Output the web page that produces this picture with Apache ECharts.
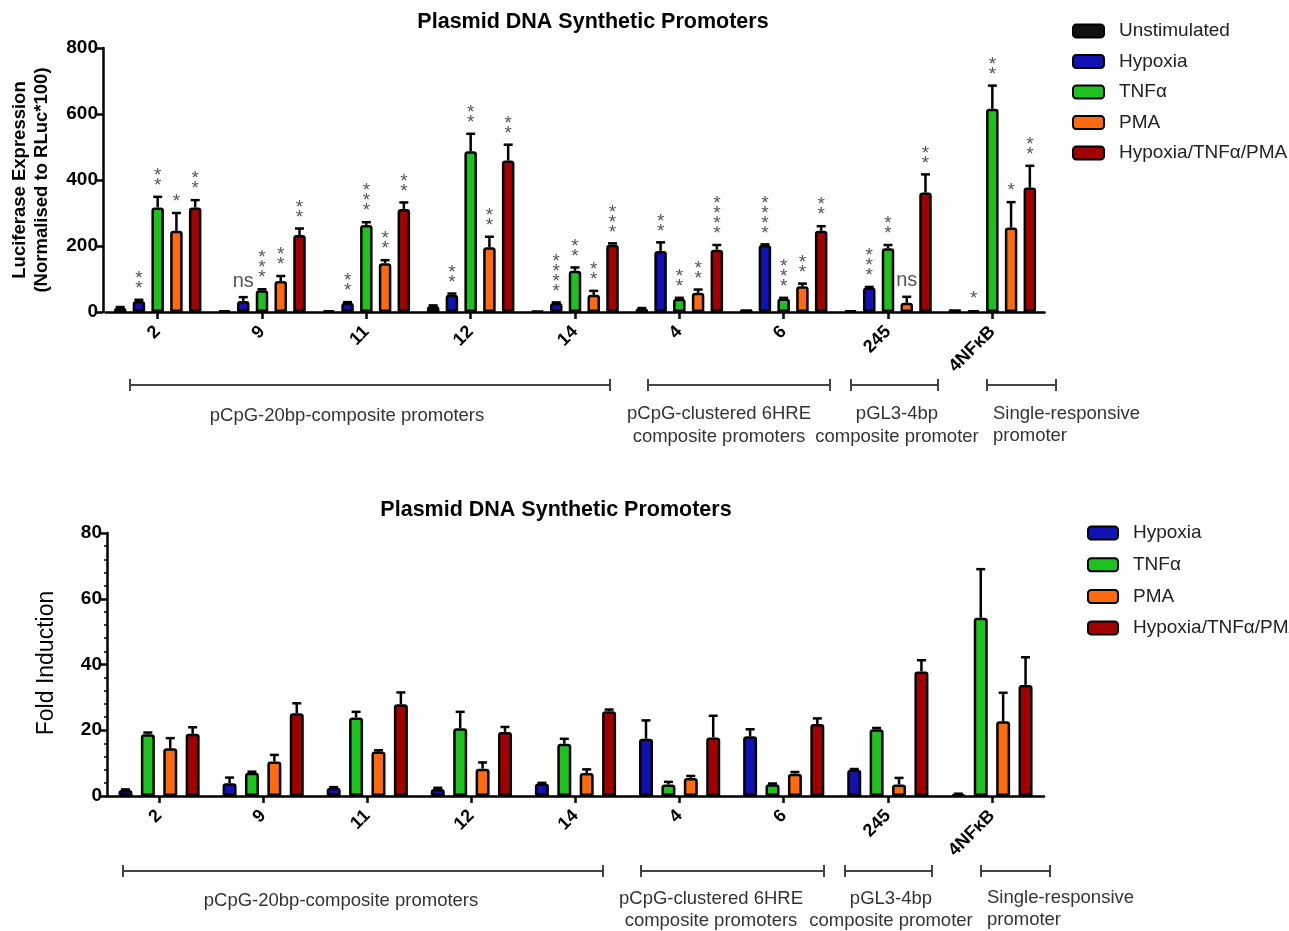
<!DOCTYPE html>
<html><head><meta charset="utf-8">
<script src="https://cdn.jsdelivr.net/npm/echarts@6/dist/echarts.min.js"></script>
<style>html,body{margin:0;padding:0;background:#fff}#c{width:1289px;height:931px}</style>
</head><body><div id="c"></div>
<script>
// ---------- DATA ----------
const categories = ['2', '9', '11', '12', '14', '4', '6', '245', '4NF\u03baB'];
const seriesNames = ['Unstimulated', 'Hypoxia', 'TNF\u03b1', 'PMA', 'Hypoxia/TNF\u03b1/PMA'];

// Top panel: Luciferase expression (normalised to RLuc*100)
const unstimLuc   = [13, 4, 5, 18, 3, 10, 8, 4, 8];
const unstimLucErr= [2, 1, 1, 2, 1, 2, 1, 1, 1];
const hypoxiaLuc  = [33, 33, 28, 52, 27, 185, 203, 74, 5];
const hypoxiaLucErr=[4, 12, 2, 4, 2, 26, 2, 2, 1];
const tnfLuc      = [317, 66, 264, 487, 125, 40, 41, 193, 616];
const tnfLucErr   = [32, 3, 8, 53, 10, 3, 2, 10, 70];
const pmaLuc      = [246, 94, 148, 196, 52, 58, 78, 28, 256];
const pmaLucErr   = [54, 15, 9, 32, 12, 10, 8, 18, 77];
const comboLuc    = [317, 233, 312, 459, 204, 189, 246, 362, 377];
const comboLucErr = [22, 20, 20, 48, 4, 14, 14, 55, 66];

// significance labels (top panel)
const hypoxiaSig = ['**', 'ns', '**', '**', '****', '**', '****', '***', '*'];
const tnfSig     = ['**', '***', '***', '**', '**', '**', '***', '**', '**'];
const pmaSig     = ['*', '**', '**', '**', '**', '**', '**', 'ns', '*'];
const comboSig   = ['**', '**', '**', '**', '***', '****', '**', '**', '**'];

// Bottom panel: fold induction
const hypoxiaFold    = [1.8, 3.9, 2.5, 2.1, 3.8, 17.4, 18.2, 8.0, 0.5];
const hypoxiaFoldErr = [0.2, 1.7, 0.2, 0.4, 0.2, 5.6, 2.1, 0.2, 0.2];
const tnfFold        = [18.8, 7.1, 23.9, 20.6, 15.9, 3.5, 3.6, 20.3, 54.2];
const tnfFoldErr     = [0.5, 0.3, 1.7, 5.0, 1.5, 0.8, 0.2, 0.4, 14.8];
const pmaFold        = [14.5, 10.5, 13.5, 8.3, 7.0, 5.5, 6.8, 3.5, 22.7];
const pmaFoldErr     = [3.1, 2.0, 0.4, 1.9, 1.1, 0.6, 0.5, 2.0, 8.7];
const comboFold      = [18.9, 25.2, 27.9, 19.5, 25.8, 17.8, 21.9, 37.9, 33.8];
const comboFoldErr   = [2.0, 3.0, 3.6, 1.5, 0.5, 6.6, 1.7, 3.4, 8.4];

const titleText = 'Plasmid DNA Synthetic Promoters';
const groupLabels = [
  ['pCpG-20bp-composite promoters'],
  ['pCpG-clustered 6HRE', 'composite promoters'],
  ['pGL3-4bp', 'composite promoter'],
  ['Single-responsive', 'promoter']
];

// ---------- STYLE ----------
const FONT = '"Liberation Sans", Arial, sans-serif';
const colorMap = {
  'Unstimulated': '#111111',
  'Hypoxia': '#1212B4',
  'TNF\u03b1': '#1EC21E',
  'PMA': '#FF6A0C',
  'Hypoxia/TNF\u03b1/PMA': '#A30000'
};

const chart = echarts.init(document.getElementById('c'), null, {renderer: 'canvas'});

const TOP_BW = 12.5, TOP_GAP = 0.5;
const BOT_BW = 14, BOT_GAP = 0.6;

function barSeries(name, data, gi, bw, gap) {
  return {
    type: 'bar', name: name, data: data,
    xAxisIndex: gi, yAxisIndex: gi,
    barWidth: bw, barGap: (gap * 100) + '%',
    itemStyle: {color: colorMap[name], borderColor: '#000', borderWidth: 2.5, borderRadius: [2, 2, 0, 0]},
    emphasis: {disabled: true},
    z: 2
  };
}

function errSeries(gi, groups, bw, gap) {
  const n = groups.length;
  const spacing = bw * (1 + gap);
  const items = [];
  groups.forEach((g, si) => {
    g.vals.forEach((v, ci) => {
      items.push([ci, si, v, v + g.errs[ci], g.sig ? g.sig[ci] : '']);
    });
  });
  return {
    type: 'custom', name: 'err' + gi,
    xAxisIndex: gi, yAxisIndex: gi, z: 3, silent: true,
    data: items.map(d => [d[0], d[1], d[2], d[3]]),
    renderItem: function (params, api) {
      const ci = api.value(0), si = api.value(1), v = api.value(2), top = api.value(3);
      const lab = items[params.dataIndex][4];
      const b = api.coord([ci, v]);
      const t = api.coord([ci, top]);
      const x = b[0] + (si - (n - 1) / 2) * spacing;
      const children = [];
      if (t[1] < b[1] - 0.5) {
        children.push({type: 'line', shape: {x1: x, y1: b[1], x2: x, y2: t[1]}, style: {stroke: '#000', lineWidth: 2.5}});
        children.push({type: 'line', shape: {x1: x - 4.5, y1: t[1], x2: x + 4.5, y2: t[1]}, style: {stroke: '#000', lineWidth: 2.5}});
      }
      if (lab) {
        const isStar = lab.indexOf('*') >= 0;
        const txt = isStar ? lab.split('').join('\n') : lab;
        children.push({
          type: 'text',
          style: {
            text: txt, x: x, y: t[1] - (isStar ? 6 : 6),
            fill: '#555', fontFamily: FONT,
            fontSize: isStar ? 19 : 20, lineHeight: isStar ? 10 : 20,
            align: 'center', verticalAlign: 'bottom',
            textAlign: 'center', textVerticalAlign: 'bottom'
          }
        });
      }
      return {type: 'group', children: children};
    }
  };
}

function bracket(x1, x2, y, labels, cx, align, ly, lgap) {
  const els = [
    {type: 'line', shape: {x1: x1, y1: y, x2: x2, y2: y}, style: {stroke: '#444', lineWidth: 2}},
    {type: 'line', shape: {x1: x1, y1: y - 6, x2: x1, y2: y + 6}, style: {stroke: '#444', lineWidth: 2}},
    {type: 'line', shape: {x1: x2, y1: y - 6, x2: x2, y2: y + 6}, style: {stroke: '#444', lineWidth: 2}}
  ];
  labels.forEach((l, i) => {
    els.push({type: 'text', x: cx, y: ly + i * lgap,
      style: {text: l, fill: '#333', font: '18.5px ' + FONT, textAlign: align, textVerticalAlign: 'middle'}});
  });
  return els;
}

const axisLineStyle = {show: true, lineStyle: {color: '#000', width: 2.5}};

const topGroups = [
  {vals: unstimLuc, errs: unstimLucErr, sig: null},
  {vals: hypoxiaLuc, errs: hypoxiaLucErr, sig: hypoxiaSig},
  {vals: tnfLuc, errs: tnfLucErr, sig: tnfSig},
  {vals: pmaLuc, errs: pmaLucErr, sig: pmaSig},
  {vals: comboLuc, errs: comboLucErr, sig: comboSig}
];
const botGroups = [
  {vals: hypoxiaFold, errs: hypoxiaFoldErr},
  {vals: tnfFold, errs: tnfFoldErr},
  {vals: pmaFold, errs: pmaFoldErr},
  {vals: comboFold, errs: comboFoldErr}
];

const xLabel = {rotate: 45, interval: 0, fontWeight: 'bold', fontSize: 18, color: '#000', fontFamily: FONT, margin: 17};
const yLabel = {fontWeight: 'bold', fontSize: 19, color: '#000', fontFamily: FONT, margin: 5};

const graphics = []
  .concat(bracket(130, 610, 385, groupLabels[0], 347, 'center', 416, 22))
  .concat(bracket(648, 830, 385, groupLabels[1], 719, 'center', 414, 23))
  .concat(bracket(851, 938, 385, groupLabels[2], 897, 'center', 414, 23))
  .concat(bracket(987, 1056, 385, groupLabels[3], 993, 'left', 414, 22))
  .concat(bracket(123, 603, 871, groupLabels[0], 341, 'center', 901, 21))
  .concat(bracket(641, 824, 871, groupLabels[1], 711, 'center', 899, 22))
  .concat(bracket(845, 932, 871, groupLabels[2], 891, 'center', 899, 22))
  .concat(bracket(981, 1050, 871, groupLabels[3], 987, 'left', 898, 22));

graphics.push({type: 'text', x: 20, y: 180, rotation: Math.PI / 2,
  style: {text: 'Luciferase Expression', font: 'bold 18.5px ' + FONT, fill: '#000', textAlign: 'center', textVerticalAlign: 'middle'}});
graphics.push({type: 'text', x: 42, y: 180, rotation: Math.PI / 2,
  style: {text: '(Normalised to RLuc*100)', font: 'bold 18.5px ' + FONT, fill: '#000', textAlign: 'center', textVerticalAlign: 'middle'}});
graphics.push({type: 'text', x: 47, y: 663, rotation: Math.PI / 2,
  style: {text: 'Fold Induction', font: '23px ' + FONT, fill: '#000', textAlign: 'center', textVerticalAlign: 'middle'}});

const option = {
  backgroundColor: '#fff',
  animation: false,
  title: [
    {text: titleText, left: 588, top: 6, textAlign: 'center',
      textStyle: {fontFamily: FONT, fontWeight: 'bold', fontSize: 21.5, color: '#000'}},
    {text: titleText, left: 551, top: 494, textAlign: 'center',
      textStyle: {fontFamily: FONT, fontWeight: 'bold', fontSize: 21.5, color: '#000'}}
  ],
  legend: [
    {data: seriesNames, left: 1072, top: 21.5, padding: 0, orient: 'vertical', itemWidth: 31, itemHeight: 13, itemGap: 11.5,
      icon: 'roundRect', selectedMode: false,
      textStyle: {fontFamily: FONT, fontSize: 19, color: '#222', lineHeight: 19, padding: [0, 0, 0, 10]}},
    {data: seriesNames.slice(1), left: 1087, top: 523.5, padding: 0, orient: 'vertical', itemWidth: 30, itemHeight: 13, itemGap: 12.7,
      icon: 'roundRect', selectedMode: false,
      textStyle: {fontFamily: FONT, fontSize: 19, color: '#222', lineHeight: 19, padding: [0, 0, 0, 10]}}
  ],
  grid: [
    {left: 105.5, width: 939, top: 48, height: 264, containLabel: false},
    {left: 107, width: 937, top: 533, height: 263, containLabel: false}
  ],
  xAxis: [
    {type: 'category', gridIndex: 0, data: categories, axisLine: axisLineStyle,
      axisTick: {show: true, alignWithLabel: true, length: 7, lineStyle: {color: '#000', width: 2.5}},
      axisLabel: xLabel, splitLine: {show: false}},
    {type: 'category', gridIndex: 1, data: categories, axisLine: axisLineStyle,
      axisTick: {show: true, alignWithLabel: true, length: 7, lineStyle: {color: '#000', width: 2.5}},
      axisLabel: xLabel, splitLine: {show: false}}
  ],
  yAxis: [
    {type: 'value', gridIndex: 0, min: 0, max: 800, interval: 200, offset: 2.5,
      axisLine: axisLineStyle, axisTick: {show: true, length: 6, lineStyle: {color: '#000', width: 2.5}},
      axisLabel: yLabel, splitLine: {show: false}},
    {type: 'value', gridIndex: 1, min: 0, max: 80, interval: 20,
      axisLine: axisLineStyle, axisTick: {show: true, length: 6, lineStyle: {color: '#000', width: 2.5}},
      minorTick: {show: true, splitNumber: 5, length: 3, lineStyle: {color: '#000', width: 1.5}},
      axisLabel: yLabel, splitLine: {show: false}}
  ],
  graphic: graphics,
  series: [
    barSeries(seriesNames[0], unstimLuc, 0, TOP_BW, TOP_GAP),
    barSeries(seriesNames[1], hypoxiaLuc, 0, TOP_BW, TOP_GAP),
    barSeries(seriesNames[2], tnfLuc, 0, TOP_BW, TOP_GAP),
    barSeries(seriesNames[3], pmaLuc, 0, TOP_BW, TOP_GAP),
    barSeries(seriesNames[4], comboLuc, 0, TOP_BW, TOP_GAP),
    errSeries(0, topGroups, TOP_BW, TOP_GAP),
    barSeries(seriesNames[1], hypoxiaFold, 1, BOT_BW, BOT_GAP),
    barSeries(seriesNames[2], tnfFold, 1, BOT_BW, BOT_GAP),
    barSeries(seriesNames[3], pmaFold, 1, BOT_BW, BOT_GAP),
    barSeries(seriesNames[4], comboFold, 1, BOT_BW, BOT_GAP),
    errSeries(1, botGroups, BOT_BW, BOT_GAP)
  ]
};
chart.setOption(option);
</script>
</body></html>
